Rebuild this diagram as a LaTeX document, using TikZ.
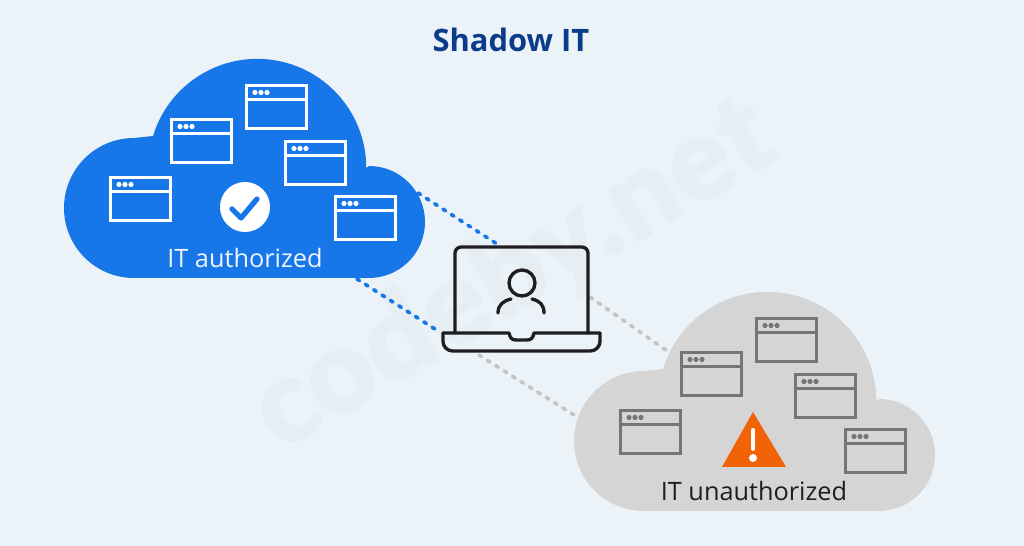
\documentclass[tikz,border=0pt]{standalone}
\usepackage{fontspec}
\setmainfont{Open Sans}
\newfontfamily\markfont{Lato Black}
\usepackage{tikz}
\usetikzlibrary{calc}
\usepackage{xcolor}
\definecolor{pagebg}{HTML}{EBF3F9}
\definecolor{markbg}{HTML}{E6EDF3}
\definecolor{titleblue}{HTML}{0B3C8A}
\definecolor{cloudblue}{HTML}{1877E8}
\definecolor{cloudgray}{HTML}{D5D5D5}
\definecolor{icongray}{HTML}{757575}
\definecolor{alertorange}{HTML}{F26207}
\definecolor{laptopblack}{HTML}{1E1E22}
\definecolor{linkgray}{HTML}{C2C4C6}
\tikzset{
    linkdash/.style={line width=2.1pt, line cap=round, dash pattern=on 1.7pt off 3.95pt},
    laptopline/.style={draw=laptopblack, line width=1.9pt, line cap=round, line join=round},
}
\newcommand{\cloudpath}{(134,278) arc (90:270:70) -- (153,136) arc (197:360:109) -- (369,166) arc (270:450:56) -- cycle}
\newcommand{\appwindows}[1]{
    \foreach \wx/\wy in {109/176, 170/118, 245/84, 284/140, 334/195} {
        \draw[#1, line width=2pt] (\wx+1.5,\wy+1.5) rectangle ++(60,43);
        \draw[#1, line width=2pt] (\wx+1.5,\wy+15.5) -- ++(60,0);
        \foreach \dotx in {10,16,22} {
            \fill[#1] (\wx+\dotx,\wy+8.5) circle (2.6);
        }
    }
}
\begin{document}
\begin{tikzpicture}[x=0.02cm, y=-0.02cm]
    \fill[pagebg] (0,0) rectangle (1024,546);
    \useasboundingbox (0,0) rectangle (1024,546);
    \node[markbg, rotate=30.5, font=\markfont\fontsize{67}{67}\selectfont] (watermark) at (514,276) {codeby.net};

    \coordinate (authTop) at (418,193);
    \coordinate (authBottom) at (357,279);
    \coordinate (screenTop) at (497,244);
    \coordinate (baseLeft) at (438,331);
    \coordinate (screenRight) at (590,297);
    \coordinate (baseBottom) at (479,355);
    \coordinate (unauthTop) at (670,353);
    \coordinate (unauthLeft) at (577,417);

    \draw[cloudblue, linkdash] (authTop) -- (screenTop);
    \draw[cloudblue, linkdash] (authBottom) -- (baseLeft);
    \draw[linkgray, linkdash] (screenRight) -- (unauthTop);
    \draw[linkgray, linkdash] (baseBottom) -- (unauthLeft);

    \fill[cloudblue] \cloudpath;
    \appwindows{white}
    \fill[white] (245,207) circle (25);
    \draw[cloudblue, line width=3pt, line cap=round, line join=round] (232,209) -- (241,218) -- (257,199);
    \node[text=white!92!cloudblue, font=\fontsize{14.4}{16}\selectfont] (authLabel) at (245,258) {IT authorized};

    \begin{scope}[shift={(510,233)}]
        \fill[cloudgray] \cloudpath;
        \appwindows{icongray}
    \end{scope}
    \fill[alertorange] (753,412) -- (786,467) -- (722,467) -- cycle;
    \draw[white, line width=2.3pt, line cap=round] (753,430) -- (753,449);
    \fill[white] (753,458) circle (4);
    \node[text=laptopblack, font=\fontsize{14.4}{16}\selectfont] (unauthLabel) at (754,491) {IT unauthorized};

    \draw[laptopline, rounded corners=3.5pt] (455,333) -- (455,247) -- (588,247) -- (588,333);
    \draw[laptopline] (443,333) -- (509,333) .. controls (510,338) and (512,340) .. (516,340) -- (527,340) .. controls (531,340) and (533,338) .. (534,333) -- (600,333);
    \draw[laptopline, rounded corners=5.5pt] (443,333) -- (443,351) -- (600,351) -- (600,333);
    \draw[laptopline] (522,283) circle (13);
    \draw[laptopline] (511,299) .. controls (503,301) and (498,305) .. (498,313);
    \draw[laptopline] (532,299) .. controls (540,301) and (544,305) .. (544,313);

    \node[text=titleblue, font=\bfseries\fontsize{17.6}{20}\selectfont] (title) at (511,40) {Shadow IT};
\end{tikzpicture}
\end{document}
